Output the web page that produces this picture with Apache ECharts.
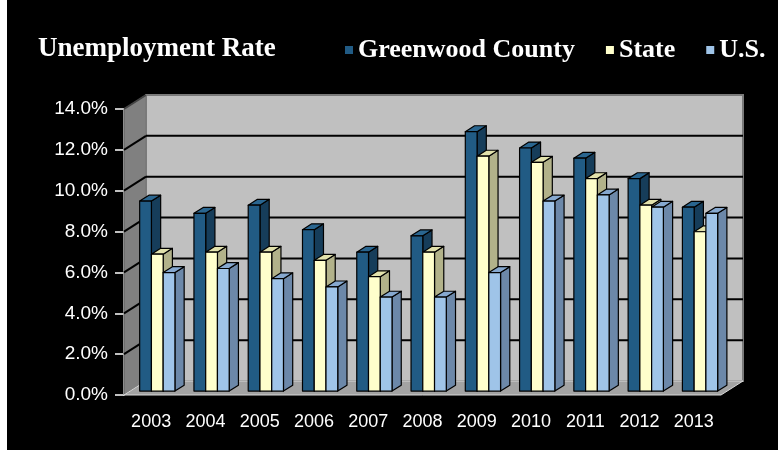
<!DOCTYPE html>
<html>
<head>
<meta charset="utf-8">
<script src="https://cdn.jsdelivr.net/npm/echarts@6/dist/echarts.min.js"></script>
<style>
  html, body { margin: 0; padding: 0; background: #fff; }
  #chart { position: absolute; left: 0; top: 0; width: 778px; height: 456px; }
</style>
</head>
<body>
<div id="chart"></div>
<script>
// Annual unemployment rate (%), 2003-2013
const years = ['2003', '2004', '2005', '2006', '2007', '2008', '2009', '2010', '2011', '2012', '2013'];
const greenwood = [9.3, 8.7, 9.1, 7.9, 6.8, 7.6, 12.7, 11.9, 11.4, 10.4, 9.0];
const state     = [6.7, 6.8, 6.8, 6.4, 5.6, 6.8, 11.5, 11.2, 10.4, 9.1, 7.8];
const us        = [5.8, 6.0, 5.5, 5.1, 4.6, 4.6, 5.8, 9.3, 9.6, 9.0, 8.7];
const seriesNames = ['Greenwood County', 'State', 'U.S.'];

// Value axis range
const Y_MIN = 0, Y_MAX = 14, Y_STEP = 2;

// Oblique "3D" look: full depth offset of the back wall, bar placement in depth
const DEPTH = { x: 22, y: -14 };
const Z_FRONT = 0.28, Z_BACK = 0.70;
const BAR_FRAC = 0.2165;   // width of one bar as a share of the category band

// face colours: front, side, top
const faces = [
  { front: '#215B84', side: '#163D5A', top: '#2A6690' },
  { front: '#FFFFCC', side: '#B2B28A', top: '#E2E2AC' },
  { front: '#9FC4E8', side: '#6C88A9', top: '#86A8CF' }
];

function barRenderer(k) {
  const c = faces[k];
  return function (params, api) {
    const cat = api.value(0);
    const val = api.value(1);
    const topPt = api.coord([cat, val]);
    const basePt = api.coord([cat, Y_MIN]);
    const cw = api.size([1, 0])[0];
    const bw = cw * BAR_FRAC;
    const x0 = topPt[0] - 1.5 * bw + k * bw + DEPTH.x * Z_FRONT;
    const yT = topPt[1] + DEPTH.y * Z_FRONT;
    const yB = basePt[1] + DEPTH.y * Z_FRONT;
    const dx = DEPTH.x * (Z_BACK - Z_FRONT);
    const dy = DEPTH.y * (Z_BACK - Z_FRONT);
    const stroke = { stroke: '#000', lineWidth: 1.2, lineJoin: 'round' };
    return {
      type: 'group',
      children: [
        { type: 'polygon', shape: { points: [[x0 + bw, yT], [x0 + bw + dx, yT + dy], [x0 + bw + dx, yB + dy], [x0 + bw, yB]] },
          style: Object.assign({ fill: c.side }, stroke) },
        { type: 'polygon', shape: { points: [[x0, yT], [x0 + dx, yT + dy], [x0 + bw + dx, yT + dy], [x0 + bw, yT]] },
          style: Object.assign({ fill: c.top }, stroke) },
        { type: 'rect', shape: { x: x0, y: yT, width: bw, height: yB - yT },
          style: Object.assign({ fill: c.front }, stroke) }
      ]
    };
  };
}

// Walls, floor and gridlines of the plot box
function wallRenderer(params, api) {
  const cs = params.coordSys;
  const L = cs.x, R = cs.x + cs.width, T = cs.y, B = cs.y + cs.height;
  const dx = DEPTH.x, dy = DEPTH.y;
  const kids = [];
  kids.push({ type: 'polygon', shape: { points: [[L, B], [L, T], [L + dx, T + dy], [L + dx, B + dy]] },
              style: { fill: '#808080', stroke: '#5a5a5a', lineWidth: 1 } });
  kids.push({ type: 'rect', shape: { x: L + dx, y: T + dy, width: cs.width, height: cs.height },
              style: { fill: '#C0C0C0', stroke: '#7a7a7a', lineWidth: 2 } });
  kids.push({ type: 'polygon', shape: { points: [[L, B], [R, B], [R + dx, B + dy], [L + dx, B + dy]] },
              style: { fill: '#A3A3A3', stroke: '#D8D8D8', lineWidth: 1 } });
  for (let v = Y_MIN + Y_STEP; v < Y_MAX; v += Y_STEP) {
    const y = api.coord([0, v])[1];
    kids.push({ type: 'line', shape: { x1: L + dx, y1: y + dy, x2: R + dx, y2: y + dy },
                style: { stroke: '#000', lineWidth: 2 } });
    kids.push({ type: 'line', shape: { x1: L, y1: y, x2: L + dx, y2: y + dy },
                style: { stroke: '#000', lineWidth: 2 } });
  }
  kids.push({ type: 'line', shape: { x1: L, y1: T, x2: L + dx, y2: T + dy },
              style: { stroke: '#444', lineWidth: 2 } });
  return { type: 'group', children: kids };
}

const chart = echarts.init(document.getElementById('chart'), null, { renderer: 'canvas' });

const seriesData = [greenwood, state, us];

chart.setOption({
  backgroundColor: '#000',
  animation: false,
  // white page margins on the left and bottom edges
  graphic: [
    { type: 'rect', left: 0, top: 0, shape: { width: 7, height: 456 }, style: { fill: '#fff' }, silent: true },
    { type: 'rect', left: 0, top: 450, shape: { width: 778, height: 6 }, style: { fill: '#fff' }, silent: true }
  ],
  title: {
    text: 'Unemployment Rate',
    left: 33, top: 31,
    textStyle: { color: '#fff', fontFamily: 'Liberation Serif', fontWeight: 'bold', fontSize: 27 }
  },
  legend: {
    data: seriesNames,
    left: 340, top: 32,
    icon: 'rect', itemWidth: 8, itemHeight: 8, itemGap: 31,
    textStyle: { color: '#fff', fontFamily: 'Liberation Serif', fontWeight: 'bold', fontSize: 26 }
  },
  grid: { left: 124, right: 57, top: 109, bottom: 61 },
  xAxis: {
    type: 'category',
    data: years,
    axisLine: { show: false },
    axisTick: { show: false },
    axisLabel: { color: '#fff', fontFamily: 'Liberation Sans', fontSize: 18, margin: 18 }
  },
  yAxis: {
    type: 'value',
    min: Y_MIN, max: Y_MAX, interval: Y_STEP,
    axisLine: { show: true, lineStyle: { color: '#fff', width: 1.5 } },
    axisTick: { show: true, length: 9, lineStyle: { color: '#fff', width: 1.5 } },
    splitLine: { show: false },
    axisLabel: { color: '#fff', fontFamily: 'Liberation Sans', fontSize: 19, margin: 16,
                 formatter: v => v.toFixed(1) + '%' }
  },
  series: [
    { type: 'custom', name: '__walls', silent: true, z: 1, renderItem: wallRenderer, data: [[0, 0]] }
  ].concat(seriesNames.map((name, k) => ({
    type: 'custom',
    name: name,
    z: 2,
    itemStyle: { color: faces[k].front },
    renderItem: barRenderer(k),
    data: years.map((y, i) => [i, seriesData[k][i]])
  })))
});
</script>
</body>
</html>
